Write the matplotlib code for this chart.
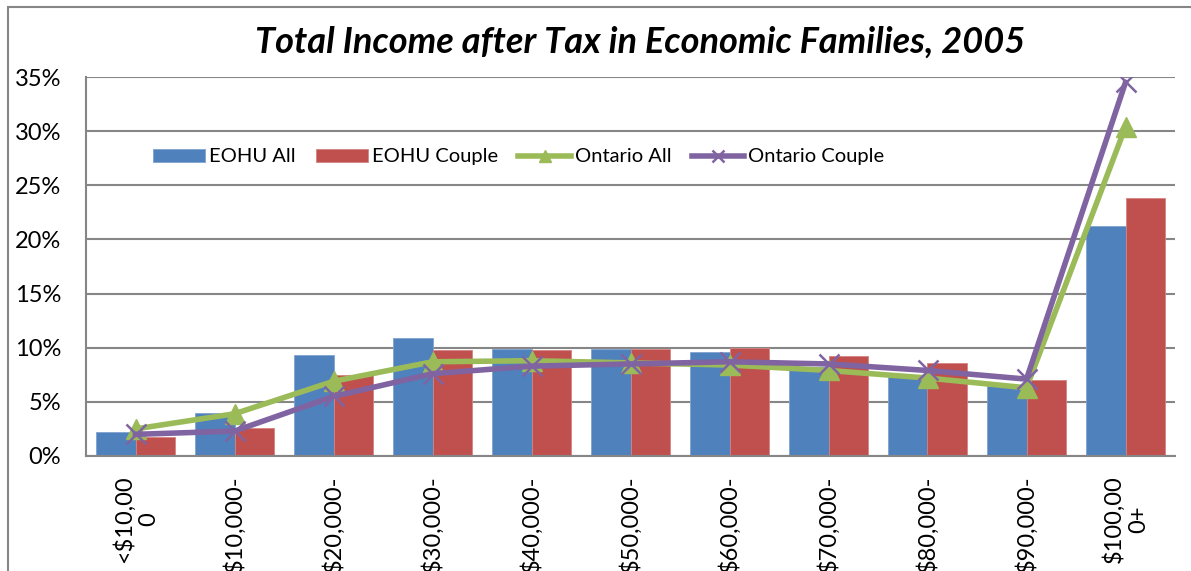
import numpy as np
import matplotlib.pyplot as plt
from matplotlib.ticker import PercentFormatter, MultipleLocator
from matplotlib.patches import Rectangle

# categories and values (percent)
categories = ['<$10,00\n0', '$10,000-', '$20,000-', '$30,000-', '$40,000-', '$50,000-',
              '$60,000-', '$70,000-', '$80,000-', '$90,000-', '$100,00\n0+']
eohu_all = [2.2, 4.0, 9.3, 10.9, 9.9, 9.9, 9.6, 8.2, 7.3, 6.5, 21.2]
eohu_couple = [1.8, 2.6, 7.5, 9.8, 9.8, 9.9, 10.0, 9.2, 8.6, 7.0, 23.8]
ontario_all = [2.5, 3.9, 6.9, 8.7, 8.8, 8.6, 8.4, 7.9, 7.2, 6.3, 30.4]
ontario_couple = [2.0, 2.3, 5.5, 7.6, 8.3, 8.5, 8.7, 8.5, 7.9, 7.1, 34.5]

plt.rcParams['font.family'] = ['Lato', 'DejaVu Sans']

W, H = 1191, 571
fig = plt.figure(figsize=(W / 100, H / 100), dpi=100)
ax = fig.add_axes([86 / W, 1 - 456 / H, (1175 - 86) / W, (456 - 77) / H])

grid_col = '#868686'
x = np.arange(len(categories))
w = 0.4

b1 = ax.bar(x - w / 2, eohu_all, w, color='#4F81BD', edgecolor='#7FA3D0', linewidth=0.6,
            label='EOHU All', zorder=2)
b2 = ax.bar(x + w / 2, eohu_couple, w, color='#C0504D', edgecolor='#D58482', linewidth=0.6,
            label='EOHU Couple', zorder=2)
l1, = ax.plot(x, ontario_all, color='#9BBB59', linewidth=4, marker='^', markersize=15,
              label='Ontario All', zorder=3)
l2, = ax.plot(x, ontario_couple, color='#8064A2', linewidth=4, marker='x', markersize=14,
              markeredgewidth=1.8, label='Ontario Couple', zorder=4)

ax.set_xlim(-0.5, len(categories) - 0.5)
ax.set_ylim(0, 35)
ax.yaxis.set_major_locator(MultipleLocator(5))
ax.yaxis.set_major_formatter(PercentFormatter(decimals=0))
ax.set_xticks(x)
ax.set_xticklabels(categories, rotation=90, multialignment='center')
ax.tick_params(axis='both', length=0, labelsize=17)
ax.tick_params(axis='y', pad=18)
ax.tick_params(axis='x', pad=14)

ax.grid(axis='y', color=grid_col, linewidth=1.5, zorder=0)
ax.set_axisbelow(True)
for side in ['top', 'right']:
    ax.spines[side].set_visible(False)
for side in ['left', 'bottom']:
    ax.spines[side].set_color(grid_col)
    ax.spines[side].set_linewidth(1.5)

ax.legend([b1, b2, l1, l2], ['EOHU All', 'EOHU Couple', 'Ontario All', 'Ontario Couple'],
          loc='center', bbox_to_anchor=(0.397, 0.789), ncol=4, frameon=False,
          fontsize=14.5, handlelength=2.6, handletextpad=0.2, columnspacing=1.0,
          handleheight=0.6, markerscale=0.6)

fig.text(640 / W, 1 - 42 / H, 'Total Income after Tax in Economic Families, 2005',
         ha='center', va='center', fontsize=26, fontweight='bold', style='italic')

# chart area border (cropped on the right and bottom)
fig.patches.append(Rectangle((8 / W, -0.1), 1.2, 1 - 7 / H + 0.1, transform=fig.transFigure,
                             fill=False, edgecolor=grid_col, linewidth=1.5))

fig.savefig('out.png', dpi=100)
